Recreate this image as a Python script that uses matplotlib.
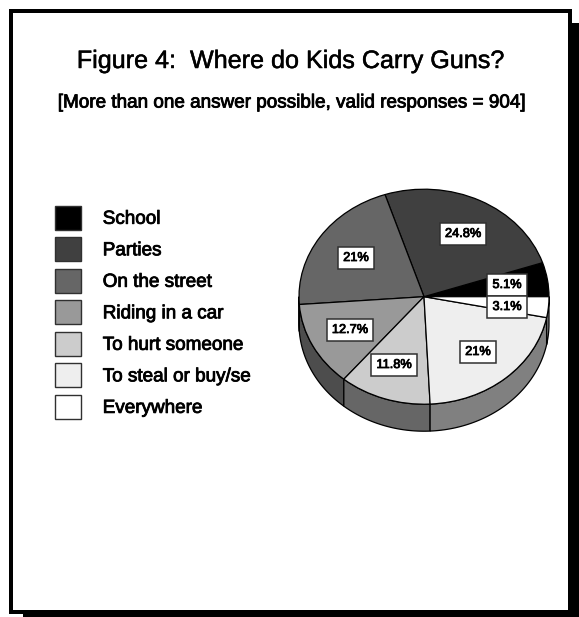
import matplotlib
matplotlib.use("Agg")
import matplotlib.pyplot as plt
import matplotlib.patheffects as pe
from matplotlib.patches import Rectangle, Polygon
import numpy as np

plt.rcParams['font.family'] = ['Liberation Sans', 'DejaVu Sans']

TITLE = "Figure 4:  Where do Kids Carry Guns?"
SUBTITLE = "[More than one answer possible, valid responses = 904]"
categories = ["School", "Parties", "On the street", "Riding in a car",
              "To hurt someone", "To steal or buy/se", "Everywhere"]
values = [5.1, 24.8, 21, 12.7, 11.8, 21, 3.1]
value_labels = ["5.1%", "24.8%", "21%", "12.7%", "11.8%", "21%", "3.1%"]
colors = ["#000000", "#404040", "#666666", "#999999", "#cccccc", "#eeeeee", "#ffffff"]
wall_colors = ["#000000", "#202020", "#333333", "#4d4d4d", "#666666", "#808080", "#808080"]
label_px = [(507, 285), (463, 234), (356, 258), (350, 330), (394, 365), (478, 352), (507, 307)]

W, H = 579, 617
fig = plt.figure(figsize=(W / 100, H / 100), dpi=100, facecolor='white')

# page layer in pixel coordinates
bg = fig.add_axes([0, 0, 1, 1])
bg.set_xlim(0, W)
bg.set_ylim(H, 0)
bg.axis('off')
bg.add_patch(Rectangle((23, 23), 556, 594, fc='black', ec='none'))
bg.add_patch(Rectangle((11, 11), 559, 601, fc='white', ec='black', lw=2.88))
bold = [pe.withStroke(linewidth=0.6, foreground='black')]
bg.text(290.5, 61, TITLE, ha='center', va='center', fontsize=18.1, color='black',
        path_effects=[pe.withStroke(linewidth=0.35, foreground='black')])
bg.text(290.5, 103, SUBTITLE, ha='center', va='center', fontsize=13.6, color='black', path_effects=bold)

# pie layer: one data unit = pie radius, squashed by axes shape
cx, cy, rx, ry, depth = 424, 296.7, 125, 107.5, 27
xl, yl_top, yl_bot = 1.15, 1.15, 1.45
ax = fig.add_axes([(cx - rx * xl) / W, 1 - (cy + ry * yl_bot) / H,
                   2 * rx * xl / W, ry * (yl_top + yl_bot) / H])
wedges, _ = ax.pie(values, colors=colors, startangle=0, radius=1, normalize=True,
                   wedgeprops=dict(edgecolor='black', linewidth=0.9))
ax.set_aspect('auto')
ax.set_xlim(-xl, xl)
ax.set_ylim(-yl_bot, yl_top)

# side wall, drawn from the same wedge angles
d = depth / ry
for w, col in zip(wedges, wall_colors):
    a0, a1 = max(w.theta1, 180), min(w.theta2, 360)
    if a1 <= a0:
        continue
    t = np.radians(np.linspace(a0, a1, 60))
    xs, ys = np.cos(t), np.sin(t)
    pts = np.r_[np.c_[xs, ys], np.c_[xs, ys - d][::-1]]
    ax.add_patch(Polygon(pts, closed=True, fc=col, ec='black', lw=0.9, zorder=0.5))

for px, txt in zip(label_px, value_labels):
    x = (px[0] - cx) / rx
    y = (cy - px[1]) / ry
    ax.text(x, y, txt, ha='center', va='center', fontsize=9.2, color='black', path_effects=bold,
            zorder=5,
            bbox=dict(boxstyle='square,pad=0.42', fc='white', ec='#303030', lw=1.1))

# legend
leg = bg.legend(wedges, categories, loc='upper left', bbox_to_anchor=(55.5 / W, 1 - 205.5 / H),
                bbox_transform=fig.transFigure, frameon=False, borderpad=0, borderaxespad=0,
                fontsize=13.6, handlelength=1.36, handleheight=1.59, handletextpad=1.14,
                labelspacing=0.39)
for t in leg.get_texts():
    t.set_path_effects(bold)
for h in leg.legend_handles:
    h.set_edgecolor('#303030')
    h.set_linewidth(1.0)

fig.savefig("out.png", dpi=100, facecolor='white')
